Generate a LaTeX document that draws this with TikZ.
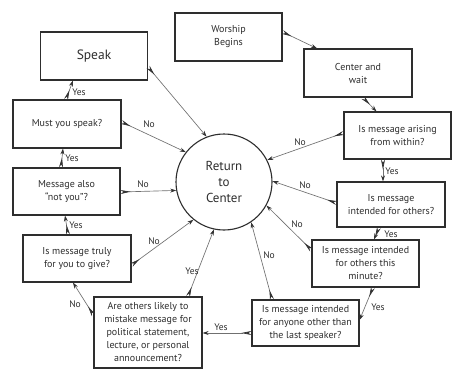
\documentclass[tikz,border=0pt]{standalone}
\usepackage{fontspec}
\setmainfont{PT Sans}
\usetikzlibrary{arrows.meta}
\definecolor{ink}{HTML}{2E2E2E}
\definecolor{wire}{HTML}{707070}
\definecolor{fthr}{HTML}{333333}
\begin{document}
\begin{tikzpicture}[x=1pt,y=-1pt,
  box/.style={draw=ink,line width=1.1pt,text=ink,align=center,inner sep=0pt,
    font=\fontsize{10}{13}\selectfont},
  hub/.style={draw=ink,line width=1.1pt,circle,minimum size=96pt,inner sep=0pt,
    text=ink,align=center,font=\fontsize{13}{16}\selectfont},
  lab/.style={text=ink,inner sep=0pt,font=\fontsize{9.5}{11}\selectfont},
  conn/.style={draw=wire,line width=0.65pt,
    {Stealth[reversed,length=10pt,width=4pt,inset=3pt,fill=fthr,color=fthr]}-{Stealth[length=6pt,width=4pt,inset=2pt,color=fthr]}},
]
\useasboundingbox (0,0) rectangle (467,380);
\fill[white] (0,0) rectangle (467,380);

\node[box,minimum width=107pt,minimum height=48pt,font=\fontsize{13.5}{16}\selectfont] (speak) at (94,56) {Speak};
\node[box,minimum width=107pt,minimum height=48pt] (worship) at (228.5,37) {Worship\\Begins};
\node[box,minimum width=108pt,minimum height=48pt] (wait) at (358,73) {Center and\\wait};
\node[box,minimum width=108pt,minimum height=48pt] (must) at (67,124) {Must you speak?};
\node[box,minimum width=107pt,minimum height=47pt] (arising) at (397.5,135.5) {Is message arising\\from within?};
\node[box,minimum width=107pt,minimum height=47pt] (notyou) at (66.5,191.5) {Message also\\“not you”?};
\node[box,minimum width=108pt,minimum height=45pt] (others) at (391,204.5) {Is message\\intended for others?};
\node[box,minimum width=108pt,minimum height=47pt] (truly) at (77,258.5) {Is message truly\\for you to give?};
\node[box,minimum width=107pt,minimum height=47pt] (minute) at (365.5,263.5) {Is message intended\\for others this\\minute?};
\node[box,minimum width=107pt,minimum height=46pt] (anyone) at (305.5,323) {Is message intended\\for anyone other than\\the last speaker?};
\node[box,minimum width=108pt,minimum height=71pt] (mistake) at (148,332.5) {Are others likely to\\mistake message for\\political statement,\\lecture, or personal\\announcement?};
\node[hub] (ret) at (224,182) {Return\\to\\Center};

% connectors
\draw[conn] ([yshift=5pt]worship.east) -- ([xshift=-41pt]wait.north);
\draw[conn] ([xshift=5pt]wait.south) -- ([xshift=-21pt]arising.north);
\draw[conn] ([yshift=2.5pt]arising.west) -- (ret.27);
\draw[conn] ([xshift=-14.5pt]arising.south) -- ([xshift=-8pt]others.north);
\draw[conn] ([yshift=1.5pt]others.west) -- (ret.1);
\draw[conn] ([xshift=-12pt]others.south) -- ([xshift=8.5pt]minute.north);
\draw[conn] ([yshift=13.5pt]minute.west) -- (ret.-29);
\draw[conn] ([xshift=7.5pt]minute.south) -- ([yshift=3pt]anyone.east);
\draw[conn] ([xshift=-33.5pt]anyone.north) -- (ret.-56);
\draw[conn] ([yshift=-10pt]anyone.west) -- ([yshift=-0.5pt]mistake.east);
\draw[conn] ([xshift=40pt]mistake.north) -- (ret.-102);
\draw[conn] ([yshift=17.5pt]mistake.west) -- ([xshift=-4pt]truly.south);
\draw[conn] ([yshift=-6.5pt]truly.east) -- (ret.-129);
\draw[conn] ([xshift=-9pt]truly.north) -- ([xshift=-1.5pt]notyou.south);
\draw[conn] ([yshift=-0.5pt]notyou.east) -- (ret.-170);
\draw[conn] ([xshift=-5.5pt]notyou.north) -- ([xshift=-4pt]must.south);
\draw[conn] ([yshift=2pt]must.east) -- (ret.142);
\draw[conn] ([xshift=-1pt]must.north) -- ([xshift=-21pt]speak.south);
\draw[conn] ([yshift=-11pt]speak.east) -- (ret.111);

% labels
\node[lab] (l1) at (149,124) {No};
\node[lab] (l2) at (79,92) {Yes};
\node[lab] (l3) at (72,158) {Yes};
\node[lab] (l4) at (143,184) {No};
\node[lab] (l5) at (76,225) {Yes};
\node[lab] (l6) at (154,241) {No};
\node[lab] (l7) at (192,271) {Yes};
\node[lab] (l8) at (75,304) {No};
\node[lab] (l9) at (221,327) {Yes};
\node[lab] (l10) at (300,142) {No};
\node[lab] (l11) at (392,171) {Yes};
\node[lab] (l12) at (305,185) {No};
\node[lab] (l13) at (391,234) {Yes};
\node[lab] (l14) at (297,224) {No};
\node[lab] (l15) at (269,255) {No};
\node[lab] (l16) at (378,307) {Yes};
\end{tikzpicture}
\end{document}
